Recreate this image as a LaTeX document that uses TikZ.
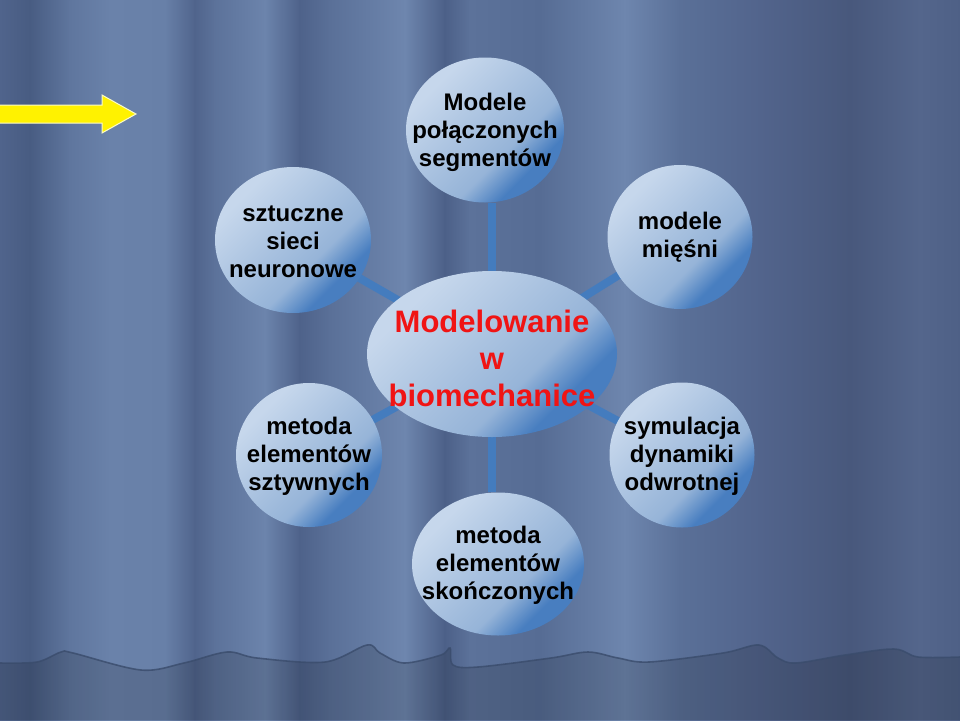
\documentclass[tikz,border=0pt]{standalone}
\usepackage{fontspec}
\setmainfont{Liberation Sans}
\usetikzlibrary{shapes.geometric}
\pgfdeclarelayer{bg}
\pgfdeclarelayer{lines}
\pgfsetlayers{bg,lines,main}
\definecolor{linkblue}{RGB}{68,124,190}
\definecolor{ballhi}{RGB}{198,215,236}
\definecolor{ballmid}{RGB}{172,196,225}
\definecolor{ballmidb}{RGB}{150,180,216}
\definecolor{balllo}{RGB}{72,126,192}
\definecolor{titlered}{RGB}{240,20,20}
\definecolor{waveline}{RGB}{58,76,108}
\pgfdeclareverticalshading{ballshade}{100bp}{
  color(0bp)=(balllo); color(30bp)=(balllo); color(40bp)=(ballmidb);
  color(55bp)=(ballmid); color(72bp)=(ballhi); color(100bp)=(ballhi)}
\tikzset{
  ball/.style={ellipse, inner sep=0pt, shading=ballshade, shading angle=45},
  txt/.style={align=center, font=\fontsize{24}{28}\selectfont\bfseries, text=black, inner sep=0pt},
  hubtxt/.style={align=center, font=\fontsize{31}{37}\selectfont\bfseries, text=titlered, inner sep=0pt},
  link/.style={draw=linkblue, line width=8pt}
}
\begin{document}
\begin{tikzpicture}[x=1pt,y=-1pt]
\useasboundingbox (0,0) rectangle (960,720);
% ---------- curtain background ----------
\begin{pgfonlayer}{bg}
\foreach \xa/\ra/\ga/\ba/\xb/\rb/\gb/\bb in {
  0/80/100/140/30/72/92/130,
  30/72/92/130/70/95/118/158,
  70/95/118/158/110/106/130/170,
  110/106/130/170/165/104/128/168,
  165/104/128/168/195/80/100/140,
  195/80/100/140/215/92/114/154,
  215/92/114/154/265/108/132/172,
  265/108/132/172/300/78/98/138,
  300/78/98/138/330/90/112/152,
  330/90/112/152/405/110/134/174,
  405/110/134/174/445/76/96/136,
  445/76/96/136/470/92/114/154,
  470/92/114/154/540/86/108/148,
  540/86/108/148/625/110/134/174,
  625/110/134/174/680/90/112/152,
  680/90/112/152/760/82/100/140,
  760/82/100/140/850/72/88/124,
  850/72/88/124/920/84/102/140,
  920/84/102/140/960/78/96/134}{
  \definecolor{ca}{RGB}{\ra,\ga,\ba}
  \definecolor{cb}{RGB}{\rb,\gb,\bb}
  \fill[left color=ca, right color=cb] (\xa-0.5,0) rectangle (\xb+0.5,720);
}
% hem below the wavy edge
\fill[black, opacity=0.14] plot[smooth, tension=0.55] coordinates {
  (0,663) (37,662) (61,652) (73,653) (141,670) (184,663) (227,652) (257,658)
  (325,662) (367,645) (380,653) (404,663) (441,655) (450,648) (453,665)
  (478,667) (551,658) (588,652) (618,658) (649,662) (723,653) (759,645)
  (778,658) (796,663) (845,655) (894,649) (918,657) (960,657)}
  -- (960,720) -- (0,720) -- cycle;
\draw[waveline, line width=1.6pt, opacity=0.8] plot[smooth, tension=0.55] coordinates {
  (0,663) (37,662) (61,652) (73,653) (141,670) (184,663) (227,652) (257,658)
  (325,662) (367,645) (380,653) (404,663) (441,655) (450,648) (453,665)
  (478,667) (551,658) (588,652) (618,658) (649,662) (723,653) (759,645)
  (778,658) (796,663) (845,655) (894,649) (918,657) (960,657)};
% yellow arrow
\fill[yellow, draw={rgb,255:red,250;green,250;blue,200}, line width=1pt]
  (-2,105) -- (102,105) -- (102,95) -- (136,114) -- (102,133) -- (102,123) -- (-2,123) -- cycle;
\end{pgfonlayer}
% ---------- nodes ----------
\node[ball, minimum width=250pt, minimum height=166pt] (hub) at (492,354) {};
\node[ball, minimum width=158pt, minimum height=145pt] (n1) at (485,130) {};
\node[ball, minimum width=145pt, minimum height=144pt] (n2) at (680,237) {};
\node[ball, minimum width=145pt, minimum height=145pt] (n3) at (682,455) {};
\node[ball, minimum width=172pt, minimum height=143pt] (n4) at (498,564) {};
\node[ball, minimum width=146pt, minimum height=144pt] (n5) at (309,455) {};
\node[ball, minimum width=156pt, minimum height=146pt] (n6) at (293,240) {};
% ---------- texts ----------
\node[hubtxt] (thub) at (492,358) {Modelowanie\\w\\biomechanice};
\node[txt] (t1) at (485,132) {Modele\\połączonych\\segmentów};
\node[txt] (t2) at (680,237) {modele\\mięśni};
\node[txt] (t3) at (682,456) {symulacja\\dynamiki\\odwrotnej};
\node[txt] (t4) at (498,565) {metoda\\elementów\\skończonych};
\node[txt] (t5) at (309,456) {metoda\\elementów\\sztywnych};
\node[txt] (t6) at (293,242) {sztuczne\\sieci\\neuronowe};
% ---------- connectors ----------
\begin{pgfonlayer}{lines}
\path[link] (hub.center) -- (hub.center |- n1.south);
\path[link] (hub.center) -- (n2.center);
\path[link] (hub.center) -- (n3.center);
\path[link] (hub.center) -- (hub.center |- n4.north);
\path[link] (hub.center) -- (n5.center);
\path[link] (hub.center) -- (n6.center);
\end{pgfonlayer}
\end{tikzpicture}
\end{document}
